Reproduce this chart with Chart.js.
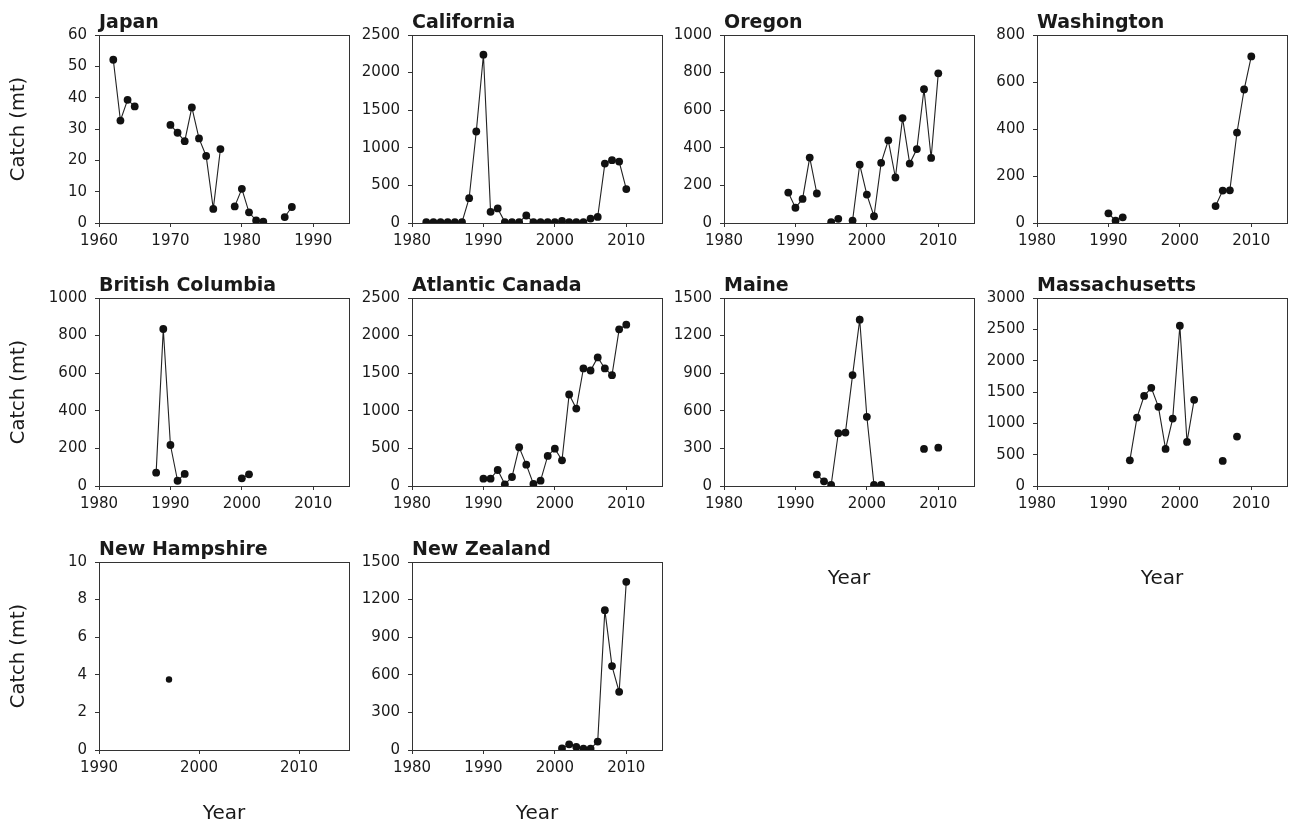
<!DOCTYPE html>
<html>
<head>
<meta charset="utf-8">
<script src="https://cdn.jsdelivr.net/npm/chart.js@4.4.0/dist/chart.umd.min.js"></script>
<style>
  html, body { margin: 0; padding: 0; background: #fff; width: 1289px; height: 823px; overflow: hidden; }
  canvas { position: absolute; }
</style>
</head>
<body>
<script>
// catch data (mt) per region, null = no data that year (breaks the line)
const japanYears = [1962, 1963, 1964, 1965, 1966, 1970, 1971, 1972, 1973, 1974, 1975, 1976, 1977, 1978, 1979, 1980, 1981, 1982, 1983, 1984, 1986, 1987];
const japanCatch = [52.1, 32.7, 39.3, 37.2, null, 31.3, 28.8, 26.1, 36.9, 27.0, 21.4, 4.5, 23.6, null, 5.3, 10.9, 3.4, 0.8, 0.4, null, 1.9, 5.1];

const californiaYears = [1982, 1983, 1984, 1985, 1986, 1987, 1988, 1989, 1990, 1991, 1992, 1993, 1994, 1995, 1996, 1997, 1998, 1999, 2000, 2001, 2002, 2003, 2004, 2005, 2006, 2007, 2008, 2009, 2010];
const californiaCatch = [12, 12, 12, 12, 12, 12, 330, 1217, 2238, 149, 194, 12, 12, 12, 100, 12, 12, 12, 12, 27, 12, 12, 12, 59, 81, 790, 835, 817, 451];

const oregonYears = [1989, 1990, 1991, 1992, 1993, 1994, 1995, 1996, 1997, 1998, 1999, 2000, 2001, 2002, 2003, 2004, 2005, 2006, 2007, 2008, 2009, 2010];
const oregonCatch = [162, 81, 128, 348, 157, null, 4, 22, null, 13, 311, 151, 36, 320, 440, 242, 558, 316, 393, 712, 346, 796];

const washingtonYears = [1990, 1991, 1992, 1993, 2005, 2006, 2007, 2008, 2009, 2010];
const washingtonCatch = [41, 10, 24, null, 72, 138, 139, 385, 568, 709];

const bcYears = [1988, 1989, 1990, 1991, 1992, 1993, 2000, 2001];
const bcCatch = [71, 835, 218, 28, 64, null, 41, 62];

const atlanticYears = [1990, 1991, 1992, 1993, 1994, 1995, 1996, 1997, 1998, 1999, 2000, 2001, 2002, 2003, 2004, 2005, 2006, 2007, 2008, 2009, 2010];
const atlanticCatch = [98, 98, 213, 22, 120, 515, 284, 27, 71, 400, 497, 342, 1217, 1030, 1563, 1536, 1710, 1563, 1474, 2083, 2145];

const maineYears = [1993, 1994, 1995, 1996, 1997, 1998, 1999, 2000, 2001, 2002, 2003, 2008, 2009, 2010];
const maineCatch = [91, 37, 8, 421, 426, 885, 1327, 552, 8, 8, null, 296, null, 306];

const massYears = [1993, 1994, 1995, 1996, 1997, 1998, 1999, 2000, 2001, 2002, 2003, 2006, 2007, 2008];
const massCatch = [410, 1092, 1438, 1566, 1263, 591, 1076, 2557, 703, 1375, null, 400, null, 788];

const nhYears = [1997];
const nhCatch = [3.75];

const nzYears = [2001, 2002, 2003, 2004, 2005, 2006, 2007, 2008, 2009, 2010];
const nzCatch = [13, 45, 24, 11, 11, 67, 1116, 670, 464, 1342];

// panel setup: axis ranges + grid slot
const panels = [
  { title: 'Japan', years: japanYears, values: japanCatch, xMin: 1960, xMax: 1995, yMax: 60, yStep: 10, row: 0, col: 0 },
  { title: 'California', years: californiaYears, values: californiaCatch, xMin: 1980, xMax: 2015, yMax: 2500, yStep: 500, row: 0, col: 1 },
  { title: 'Oregon', years: oregonYears, values: oregonCatch, xMin: 1980, xMax: 2015, yMax: 1000, yStep: 200, row: 0, col: 2 },
  { title: 'Washington', years: washingtonYears, values: washingtonCatch, xMin: 1980, xMax: 2015, yMax: 800, yStep: 200, row: 0, col: 3 },
  { title: 'British Columbia', years: bcYears, values: bcCatch, xMin: 1980, xMax: 2015, yMax: 1000, yStep: 200, row: 1, col: 0 },
  { title: 'Atlantic Canada', years: atlanticYears, values: atlanticCatch, xMin: 1980, xMax: 2015, yMax: 2500, yStep: 500, row: 1, col: 1 },
  { title: 'Maine', years: maineYears, values: maineCatch, xMin: 1980, xMax: 2015, yMax: 1500, yStep: 300, row: 1, col: 2, year: true },
  { title: 'Massachusetts', years: massYears, values: massCatch, xMin: 1980, xMax: 2015, yMax: 3000, yStep: 500, row: 1, col: 3, year: true },
  { title: 'New Hampshire', years: nhYears, values: nhCatch, xMin: 1990, xMax: 2015, yMax: 10, yStep: 2, row: 2, col: 0, year: true, small: true },
  { title: 'New Zealand', years: nzYears, values: nzCatch, xMin: 1980, xMax: 2015, yMax: 1500, yStep: 300, row: 2, col: 1, year: true }
];

const plotLefts = [99, 412, 724, 1037];
const plotTops = [35, 298, 562];
const AXIS_W = 99, TOP_PAD = 35, PLOT_W = 250, PLOT_H = 188, XAXIS_H = 110, RIGHT_PAD = 4;
const ink = '#1a1a1a';
const fontFamily = '"DejaVu Sans", sans-serif';

// frame around plot + bold panel title
const panelFrame = {
  id: 'panelFrame',
  afterDraw(chart, args, opts) {
    const { ctx, chartArea: a } = chart;
    ctx.save();
    ctx.strokeStyle = '#333';
    ctx.lineWidth = 1;
    ctx.strokeRect(Math.round(a.left) + 0.5, Math.round(a.top) + 0.5, Math.round(a.width), Math.round(a.height));
    ctx.fillStyle = ink;
    ctx.font = 'bold 19px ' + fontFamily;
    ctx.textAlign = 'left';
    ctx.textBaseline = 'alphabetic';
    ctx.fillText(opts.text, a.left, a.top - 7);
    ctx.restore();
  }
};

panels.forEach(p => {
  const canvas = document.createElement('canvas');
  canvas.width = AXIS_W + PLOT_W + RIGHT_PAD;
  canvas.height = TOP_PAD + PLOT_H + XAXIS_H;
  canvas.style.left = (plotLefts[p.col] - AXIS_W) + 'px';
  canvas.style.top = (plotTops[p.row] - TOP_PAD) + 'px';
  canvas.style.width = canvas.width + 'px';
  canvas.style.height = canvas.height + 'px';
  document.body.appendChild(canvas);

  const points = p.years.map((yr, i) => ({ x: yr, y: p.values[i] }));

  new Chart(canvas.getContext('2d'), {
    type: 'line',
    data: {
      datasets: [{
        data: points,
        borderColor: '#222',
        borderWidth: 1.1,
        pointRadius: p.small ? 3.2 : 3.9,
        pointBackgroundColor: '#111',
        pointBorderWidth: 0,
        pointHoverRadius: 0,
        spanGaps: false,
        tension: 0
      }]
    },
    options: {
      responsive: false,
      animation: false,
      events: [],
      layout: { padding: { top: TOP_PAD, right: RIGHT_PAD, left: 0, bottom: 0 } },
      plugins: {
        legend: { display: false },
        tooltip: { enabled: false },
        panelFrame: { text: p.title }
      },
      scales: {
        x: {
          type: 'linear',
          min: p.xMin,
          max: p.xMax,
          afterFit: s => { s.height = XAXIS_H; },
          border: { display: false },
          grid: { drawOnChartArea: false, drawTicks: true, tickLength: 4, tickColor: '#333' },
          ticks: {
            stepSize: 10,
            includeBounds: false,
            maxRotation: 0,
            padding: 5,
            color: ink,
            font: { family: fontFamily, size: 15 },
            callback: v => String(v)
          },
          title: {
            display: !!p.year,
            text: 'Year',
            color: ink,
            font: { family: fontFamily, size: 20 },
            padding: { top: 0, bottom: p.row === 1 ? 5 : 34 }
          }
        },
        y: {
          min: 0,
          max: p.yMax,
          afterFit: s => { s.width = AXIS_W; },
          border: { display: false },
          grid: { drawOnChartArea: false, drawTicks: true, tickLength: 4, tickColor: '#333' },
          ticks: {
            stepSize: p.yStep,
            padding: 8,
            color: ink,
            font: { family: fontFamily, size: 15 },
            callback: v => String(v)
          },
          title: {
            display: p.col === 0,
            text: 'Catch (mt)',
            color: ink,
            font: { family: fontFamily, size: 19.5 },
            padding: { top: 7, bottom: 0 }
          }
        }
      }
    },
    plugins: [panelFrame]
  });
});
</script>
</body>
</html>
